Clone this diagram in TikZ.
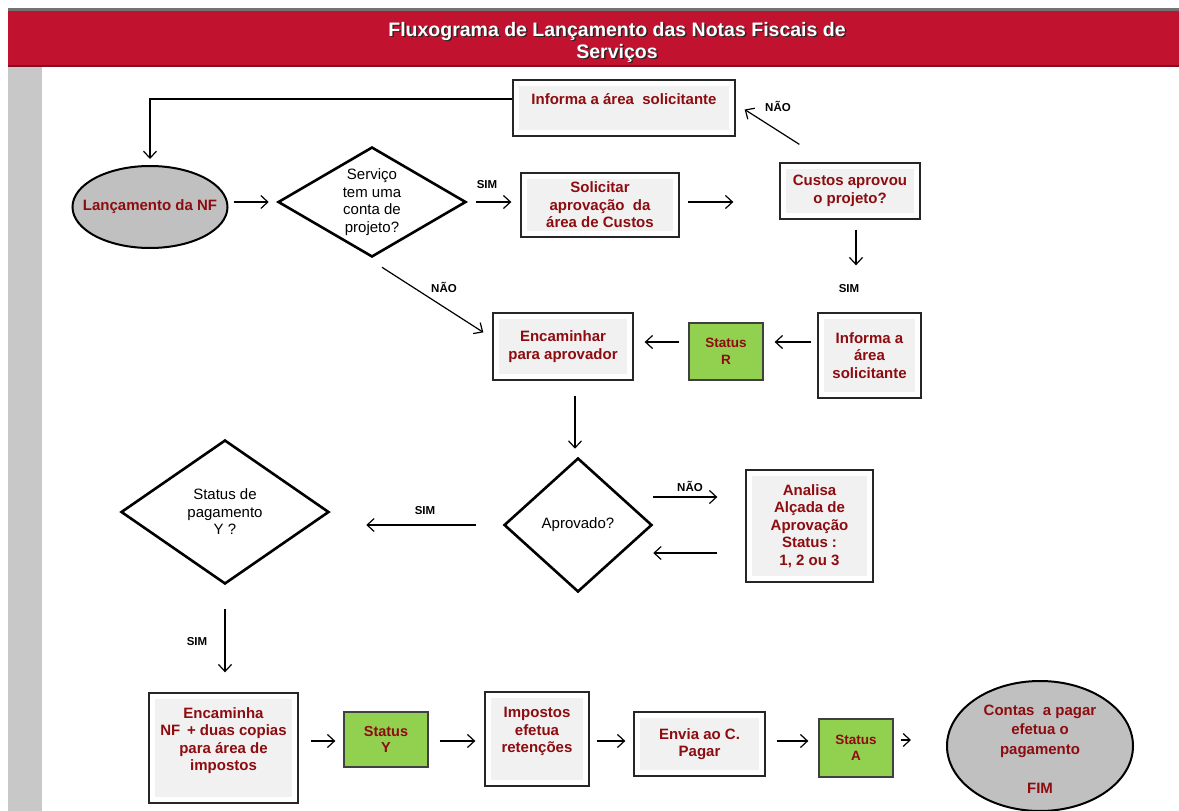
\documentclass[tikz,border=0pt]{standalone}
\usepackage{fontspec}
\setmainfont{Liberation Sans}
\usetikzlibrary{arrows.meta,shapes.geometric,calc}
\definecolor{banner}{RGB}{193,18,47}
\definecolor{txtred}{RGB}{140,12,16}
\definecolor{stgreen}{RGB}{146,208,80}
\definecolor{boxgray}{RGB}{241,241,241}
\definecolor{ellgray}{RGB}{192,192,192}
\definecolor{bargray}{RGB}{200,200,200}
\begin{document}
\begin{tikzpicture}[x=1pt,y=-1pt,
  box/.style={draw=black!85, line width=1.3pt, fill=white, inner sep=2pt, align=center,
    font=\fontsize{15}{17.5}\selectfont\bfseries, text=txtred,
    path picture={\fill[boxgray] ([shift={(6pt,-6pt)}]path picture bounding box.north west) rectangle ([shift={(-6pt,6pt)}]path picture bounding box.south east);}},
  stbox/.style={draw=black!75, line width=1.3pt, fill=stgreen, inner sep=2pt, align=center,
    font=\fontsize{13.5}{16.5}\selectfont\bfseries, text=txtred},
  dia/.style={diamond, draw=black, line width=2.6pt, fill=white, inner sep=0pt},
  dtext/.style={align=center, font=\fontsize{15}{17.5}\selectfont},
  ell/.style={ellipse, draw=black, line width=2pt, fill=ellgray, inner sep=0pt},
  etext/.style={align=center, font=\fontsize{15}{19.5}\selectfont\bfseries, text=txtred},
  arr/.style={-{Straight Barb[length=7pt,width=13pt]}, line width=1.2pt},
  lbl/.style={font=\fontsize{11.5}{13}\selectfont\bfseries, inner sep=0pt},
]
\useasboundingbox (0,0) rectangle (1179,811);
\fill[white] (0,0) rectangle (1179,811);
% banner and side bar
\fill[banner] (8,9) rectangle (1179,67);
\fill[black!55] (8,8) rectangle (1179,10.5);
\fill[banner!70!black] (8,64.5) rectangle (1179,67);
\fill[bargray] (8,67) rectangle (42,811);
\node[font=\fontsize{19.5}{22}\selectfont\bfseries, text=black!85, align=center] (titleshadow) at (618.5,43.5) {Fluxograma de Lançamento das Notas Fiscais de\\Serviços};
\node[font=\fontsize{19.5}{22}\selectfont\bfseries, text=white, align=center] (title) at (617,42) {Fluxograma de Lançamento das Notas Fiscais de\\Serviços};

% nodes
\node[ell, minimum width=155pt, minimum height=82pt] (lanc) at (150,207) {};
\node[etext] (lanct) at (lanc) {Lançamento da NF};
\node[dia, minimum width=188pt, minimum height=110pt] (d1) at (372,202) {};
\node[dtext] (d1t) at (d1) {Serviço\\tem uma\\conta de\\projeto?};
\node[box, minimum width=222pt, minimum height=56pt] (inf1) at (624,108) {Informa a área\ \ solicitante\\\mbox{}};
\node[box, minimum width=158pt, minimum height=64pt] (sol) at (600,205) {Solicitar\\aprovação\ \ da\\área de Custos};
\node[box, minimum width=140pt, minimum height=56pt] (cust) at (850,191) {Custos aprovou\\o projeto?};
\node[box, minimum width=103pt, minimum height=85pt] (inf2) at (869.5,355.5) {Informa a\\área\\solicitante};
\node[stbox, minimum width=74pt, minimum height=57pt] (stR) at (726,351.5) {Status\\R};
\node[box, minimum width=140pt, minimum height=67pt] (enc) at (563,346.5) {Encaminhar\\para aprovador};
\node[dia, minimum width=148pt, minimum height=134pt] (d2) at (578,525) {};
\node[dtext] (d2t) at (d2) {Aprovado?};
\node[box, minimum width=127pt, minimum height=112pt] (anal) at (809.5,526) {Analisa\\Alçada de\\Aprovação\\Status :\\1, 2 ou 3};
\node[dia, minimum width=208pt, minimum height=144pt] (d3) at (225,512) {};
\node[dtext] (d3t) at (d3) {Status de\\pagamento\\Y ?};
\node[box, minimum width=149pt, minimum height=110pt] (encm) at (223.5,748) {Encaminha\\NF\ \,+ duas copias\\para área de\\impostos\\\mbox{}};
\node[stbox, font=\fontsize{14.5}{16.5}\selectfont\bfseries, minimum width=84pt, minimum height=55pt] (stY) at (386,739.5) {Status\\Y};
\node[box, minimum width=104pt, minimum height=94pt] (imp) at (537,739) {Impostos\\efetua\\retenções\\\mbox{}};
\node[box, minimum width=131pt, minimum height=64pt] (env) at (699.5,744) {Envia ao C.\\Pagar};
\node[stbox, minimum width=74pt, minimum height=58pt] (stA) at (856,748) {Status\\A};
\node[ell, minimum width=186pt, minimum height=130pt] (fim) at (1040,746) {};
\node[etext] (fimt) at (1040,749) {Contas\ \ a pagar\\efetua o\\pagamento\\\mbox{}\\FIM};

% connectors
\draw[arr, shorten >=6pt] ([shift={(0,-9)}]inf1.west) -| (lanc.north);
\draw[arr, shorten <=5pt, shorten >=8pt] (lanc.east |- d1.west) -- (d1.west);
\draw[arr, shorten <=9pt, shorten >=9pt] (d1.east) -- (d1.east -| sol.west);
\node[lbl] (lsim1) at (487,185) {SIM};
\draw[arr, shorten <=8pt, shorten >=46pt] ([shift={(0,-3)}]sol.east) -- ([shift={(0,-3)}]sol.east -| cust.west);
\draw[arr] ([shift={(20,-18)}]cust.north west) -- ([shift={(9,1.5)}]inf1.east);
\node[lbl] (lnao1) at (778,106) {NÃO};
\draw[arr, shorten <=10pt, shorten >=47pt] ([shift={(6,0)}]cust.south) -- ([shift={(6,0)}]cust.south |- inf2.north);
\node[lbl] (lsim2) at (849,289) {SIM};
\draw[arr, shorten <=6pt, shorten >=11pt] ([shift={(0,-13.5)}]inf2.west) -- ([shift={(0,-13.5)}]inf2.west -| stR.east);
\draw[arr, shorten <=9pt, shorten >=11pt] ([shift={(0,-9.5)}]stR.west) -- ([shift={(0,-9.5)}]stR.west -| enc.east);
\draw[arr] ([shift={(10,9)}]d1.south) -- ([shift={(-9,20)}]enc.north west);
\node[lbl] (lnao2) at (444,287) {NÃO};
\draw[arr, shorten <=15pt, shorten >=8pt] ([shift={(12,0)}]enc.south) -- ([shift={(12,0)}]enc.south |- d2.north);
\draw[arr, shorten >=28pt] ([shift={(0,-28)}]d2.east) -- ([shift={(0,-28)}]d2.east -| anal.west);
\node[lbl] (lnao3) at (690,486) {NÃO};
\draw[arr, shorten <=28pt] ([shift={(0,27)}]anal.west) -- ([shift={(0,27)}]anal.west -| d2.east);
\draw[arr, shorten <=27pt, shorten >=36pt] (d2.west) -- (d2.west -| d3.east);
\node[lbl] (lsim3) at (425,511) {SIM};
\draw[arr, shorten <=24pt, shorten >=20pt] (d3.south) -- (d3.south |- encm.north);
\node[lbl] (lsim4) at (197,642) {SIM};
\draw[arr, shorten <=12pt, shorten >=8pt] ([shift={(0,-7)}]encm.east) -- ([shift={(0,-7)}]encm.east -| stY.west);
\draw[arr, shorten <=11pt, shorten >=9pt] ([shift={(0,1.5)}]stY.east) -- ([shift={(0,1.5)}]stY.east -| imp.west);
\draw[arr, shorten <=7pt, shorten >=8pt] ([shift={(0,2)}]imp.east) -- ([shift={(0,2)}]imp.east -| env.west);
\draw[arr, shorten <=11pt, shorten >=10pt] ([shift={(0,-3)}]env.east) -- ([shift={(0,-3)}]env.east -| stA.west);
\draw[arr, shorten <=7pt, shorten >=35pt] ([shift={(0,-8)}]stA.east) -- ([shift={(0,-8)}]stA.east -| fim.west);
\end{tikzpicture}
\end{document}
